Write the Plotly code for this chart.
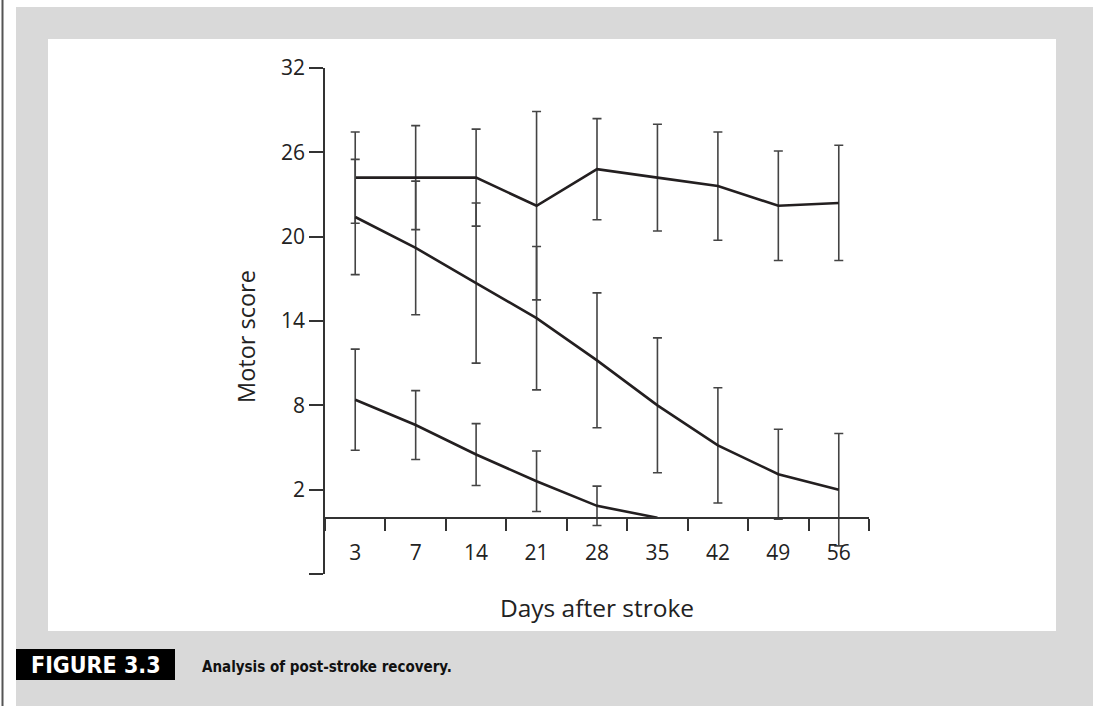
import plotly.graph_objects as go

# ---- data ----
days = ["3", "7", "14", "21", "28", "35", "42", "49", "56"]

series_a = [24.2, 24.2, 24.2, 22.2, 24.8, 24.2, 23.6, 22.2, 22.4]
err_a = [3.25, 3.7, 3.45, 6.7, 3.6, 3.8, 3.85, 3.9, 4.1]

series_b = [21.4, 19.2, 16.7, 14.2, 11.2, 8.0, 5.15, 3.1, 2.0]
err_b = [4.1, 4.75, 5.7, 5.1, 4.8, 4.8, 4.1, 3.2, 4.0]

days_c = ["3", "7", "14", "21", "28", "35"]
series_c = [8.4, 6.6, 4.5, 2.6, 0.85, 0.0]
err_c = [3.6, 2.45, 2.2, 2.15, 1.4, 0.0]

y_tickvals = [-4, 2, 8, 14, 20, 26, 32]
y_ticktext = ["", "2", "8", "14", "20", "26", "32"]

x_title = "Days after stroke"
y_title = "Motor score"
fig_label = "FIGURE 3.3"
caption = "Analysis of post-stroke recovery."

# ---- page geometry ----
W, H = 1093, 706
ML, MR, MT, MB = 325, 224, 68, 132
PW = W - ML - MR
PH = H - MT - MB
Y_MIN, Y_MAX = -4, 32


def px(x):
    return (x - ML) / PW


def py(y):
    return (H - MB - y) / PH


LINE_COLOR = "#231f20"
ERR_COLOR = "#444444"
AXIS_COLOR = "#333333"
FONT = "Open Sans, Noto Sans, DejaVu Sans, sans-serif"
CAP_FONT = "Liberation Sans Narrow, DejaVu Sans Condensed, sans-serif"

fig = go.Figure()

for xs, ys, es in [(days, series_a, err_a), (days, series_b, err_b), (days_c, series_c, err_c)]:
    fig.add_trace(go.Scatter(
        x=xs, y=ys, mode="lines",
        line=dict(color=LINE_COLOR, width=2.6),
        error_y=dict(type="data", array=es, visible=True,
                     color=ERR_COLOR, thickness=1.6, width=4.5),
        showlegend=False, hoverinfo="skip",
    ))

shapes = [
    # outer gray panel
    dict(type="rect", xref="paper", yref="paper",
         x0=px(16), x1=px(W + 5), y0=py(7), y1=py(H + 5),
         fillcolor="#d9d9d9", line=dict(width=0), layer="below"),
    # white chart box
    dict(type="rect", xref="paper", yref="paper",
         x0=px(48), x1=px(1056), y0=py(39), y1=py(631),
         fillcolor="white", line=dict(width=0), layer="below"),
    # black label box
    dict(type="rect", xref="paper", yref="paper",
         x0=px(16), x1=px(175), y0=py(649), y1=py(680),
         fillcolor="black", line=dict(width=0), layer="below"),
    # left margin rule
    dict(type="line", xref="paper", yref="paper",
         x0=px(2.5), x1=px(2.5), y0=py(0), y1=py(H),
         line=dict(color="#555555", width=2), layer="below"),
]

annotations = [
    dict(text="<b>" + fig_label + "</b>", xref="paper", yref="paper",
         x=px(95.5), y=py(665), xanchor="center", yanchor="middle",
         showarrow=False,
         font=dict(family=CAP_FONT, size=23, color="white")),
    dict(text="<b>" + caption + "</b>", xref="paper", yref="paper",
         x=px(200), y=py(667), xanchor="left", yanchor="middle",
         showarrow=False,
         font=dict(family=CAP_FONT, size=15, color="#111111")),
    # y-axis title
    dict(text=y_title, xref="paper", yref="paper",
         x=px(246), y=py(337), xanchor="center", yanchor="middle",
         textangle=-90, showarrow=False,
         font=dict(size=23.5, family=FONT, color="#222222")),
]

fig.update_layout(
    width=W, height=H, autosize=False,
    margin=dict(l=ML, r=MR, t=MT, b=MB, pad=0),
    paper_bgcolor="white", plot_bgcolor="rgba(0,0,0,0)",
    font=dict(family=FONT, color="#222222"),
    shapes=shapes, annotations=annotations,
    xaxis=dict(
        type="category", categoryorder="array", categoryarray=days,
        range=[-0.5, len(days) - 0.5],
        anchor="free", position=(0 - Y_MIN) / (Y_MAX - Y_MIN),
        showline=True, linecolor=AXIS_COLOR, linewidth=1.6,
        ticks="outside", tickson="boundaries", ticklen=12, tickwidth=1.6,
        tickcolor=AXIS_COLOR, ticklabelstandoff=16,
        tickfont=dict(size=21, family=FONT, color="#222222"),
        showgrid=False, zeroline=False,
        title=dict(text=x_title, standoff=34,
                   font=dict(size=24.5, family=FONT, color="#222222")),
    ),
    yaxis=dict(
        range=[Y_MIN, Y_MAX], tickmode="array",
        tickvals=y_tickvals, ticktext=y_ticktext,
        showline=True, linecolor=AXIS_COLOR, linewidth=1.6,
        ticks="outside", ticklen=14, tickwidth=1.6, tickcolor=AXIS_COLOR,
        tickfont=dict(size=21, family=FONT, color="#222222"),
        showgrid=False, zeroline=False,
    ),
)

fig.write_html(
    "out.html",
    config={"displayModeBar": False},
    post_script="document.body.style.margin='0px';document.body.style.overflow='hidden';",
)
